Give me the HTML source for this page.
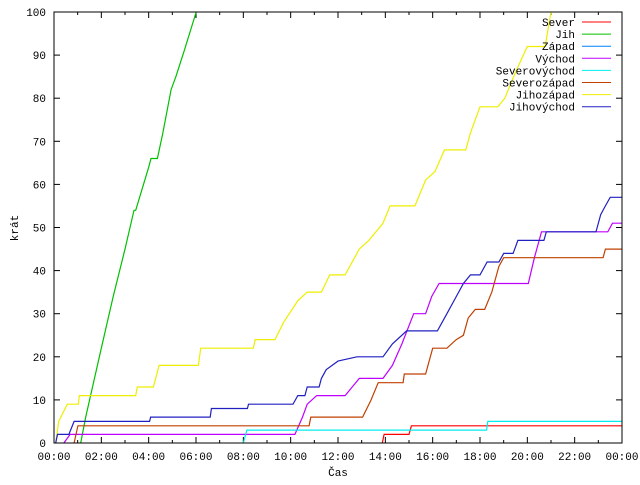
<!DOCTYPE html>
<html><head><meta charset="utf-8"><style>
body{margin:0;background:#fff;}
svg text{font-family:"Liberation Mono","DejaVu Sans Mono",monospace;font-size:11px;fill:#000;}
</style></head><body>
<svg id="chart" width="640" height="480" xmlns="http://www.w3.org/2000/svg"></svg>
<script>
const seriesNames = ["Sever","Jih","Západ","Východ","Severovýchod","Severozápad","Jihozápad","Jihovýchod"];
const seriesColors = ["#ff0000","#00c000","#0080ff","#c000ff","#00eeee","#c04000","#eeee00","#2020c0"];
const xTickLabels = ["00:00","02:00","04:00","06:00","08:00","10:00","12:00","14:00","16:00","18:00","20:00","22:00","00:00"];
const yTickLabels = ["0","10","20","30","40","50","60","70","80","90","100"];
// [hour, value] pairs
const sever = [[13.87,0],[13.95,2],[15.0,2],[15.1,4],[24,4]];
const jih = [[1.13,0],[1.34,6],[2,22],[2.5,34],[3.0,45],[3.38,54],[3.45,54],[4.0,64],[4.1,66],[4.37,66],[4.6,72],[4.95,82],[5.15,85],[5.5,91],[6.01,100]];
const zapad = [];
const vychod = [[0.42,0],[0.68,2],[10.18,2],[10.5,6],[10.7,9],[11.1,11],[12.3,11],[12.6,13],[12.9,15],[13.9,15],[14.3,18],[14.7,23],[15.2,30],[15.7,30],[15.96,34],[16.27,37],[20.04,37],[20.3,43],[20.6,49],[23.4,49],[23.6,51],[24,51]];
const severovychod = [[8.0,0],[8.15,3],[18.28,3],[18.33,5],[24,5]];
const severozapad = [[0.85,0],[1.01,4],[10.78,4],[10.85,6],[13.04,6],[13.4,10],[13.7,14],[14.75,14],[14.8,16],[15.7,16],[16.0,22],[16.6,22],[17.0,24],[17.3,25],[17.5,29],[17.8,31],[18.2,31],[18.5,35],[18.8,41],[19.0,43],[23.2,43],[23.3,45],[24,45]];
const jihozapad = [[0.07,0],[0.2,5],[0.56,9],[1.03,9],[1.07,11],[3.45,11],[3.52,13],[4.2,13],[4.44,18],[6.1,18],[6.2,22],[8.42,22],[8.5,24],[9.34,24],[9.7,28],[10.3,33],[10.7,35],[11.3,35],[11.65,39],[12.3,39],[12.9,45],[13.3,47],[13.9,51],[14.2,55],[15.25,55],[15.7,61],[16.1,63],[16.5,68],[17.4,68],[17.6,72],[18.0,78],[18.75,78],[19.05,80],[19.5,86],[20.0,92],[20.75,92],[21.0,100]];
const jihovychod = [[0.07,0],[0.15,2],[0.63,2],[0.85,5],[4.04,5],[4.08,6],[6.6,6],[6.65,8],[8.17,8],[8.22,9],[10.1,9],[10.3,11],[10.6,11],[10.7,13],[11.2,13],[11.3,15],[11.5,17],[12.0,19],[12.8,20],[13.9,20],[14.3,23],[14.9,26],[16.2,26],[16.6,30],[17.0,34],[17.3,37],[17.6,39],[18.0,39],[18.3,42],[18.8,42],[19.0,44],[19.4,44],[19.6,47],[20.7,47],[20.8,49],[22.9,49],[23.1,53],[23.3,55],[23.5,57],[24,57]];
const allSeries = [sever,jih,zapad,vychod,severovychod,severozapad,jihozapad,jihovychod];

const NS="http://www.w3.org/2000/svg", svg=document.getElementById('chart');
const L=54,R=622,T=12,B=443;
const xs=h=>L+(R-L)*h/24, ys=v=>B-(B-T)*v/100;
function mk(tag,attrs,parent){const e=document.createElementNS(NS,tag);for(const k in attrs)e.setAttribute(k,attrs[k]);(parent||svg).appendChild(e);return e;}

const axes=mk('g',{});


for(let i=0;i<yTickLabels.length;i++){
  const y=ys(i*10);
  mk('line',{x1:L,y1:y,x2:L+6,y2:y,stroke:'#000'},axes);
  mk('line',{x1:R,y1:y,x2:R-6,y2:y,stroke:'#000'},axes);
  const t=mk('text',{x:46,y:y+4,'text-anchor':'end'},axes);
  
  
  t.textContent=yTickLabels[i];
}
for(let h=0;h<=24;h++){
  const x=xs(h), len=h%2===0?6:3;
  mk('line',{x1:x,y1:B,x2:x,y2:B-len,stroke:'#000'},axes);
  mk('line',{x1:x,y1:T,x2:x,y2:T+len,stroke:'#000'},axes);
}
for(let i=0;i<xTickLabels.length;i++){
  const t=mk('text',{x:xs(i*2),y:460,'text-anchor':'middle'},axes);
  
  
  t.textContent=xTickLabels[i];
}
const yt=mk('text',{x:18,y:228,'text-anchor':'middle',transform:'rotate(-90 18 228)'});


yt.textContent='krát';
const xt=mk('text',{x:338,y:476,'text-anchor':'middle'});


xt.textContent='Čas';

for(let s=0;s<allSeries.length;s++){
  const d=allSeries[s];
  if(!d.length)continue;
  const p=mk('polyline',{points:d.map(q=>xs(q[0]).toFixed(1)+','+ys(q[1]).toFixed(1)).join(' '),fill:'none',stroke:seriesColors[s],'stroke-width':1.2});
  
  
}
const border=mk('rect',{x:L,y:T,width:R-L,height:B-T,fill:'none',stroke:'#000'});



for(let s=0;s<seriesNames.length;s++){
  const y=22+s*12.1;
  const g=mk('g',{});
  
  
  const t=mk('text',{x:575,y:y+4,'text-anchor':'end'},g);
  t.textContent=seriesNames[s];
  mk('line',{x1:582,y1:y,x2:611,y2:y,stroke:seriesColors[s]},g);
}
</script>
</body></html>
